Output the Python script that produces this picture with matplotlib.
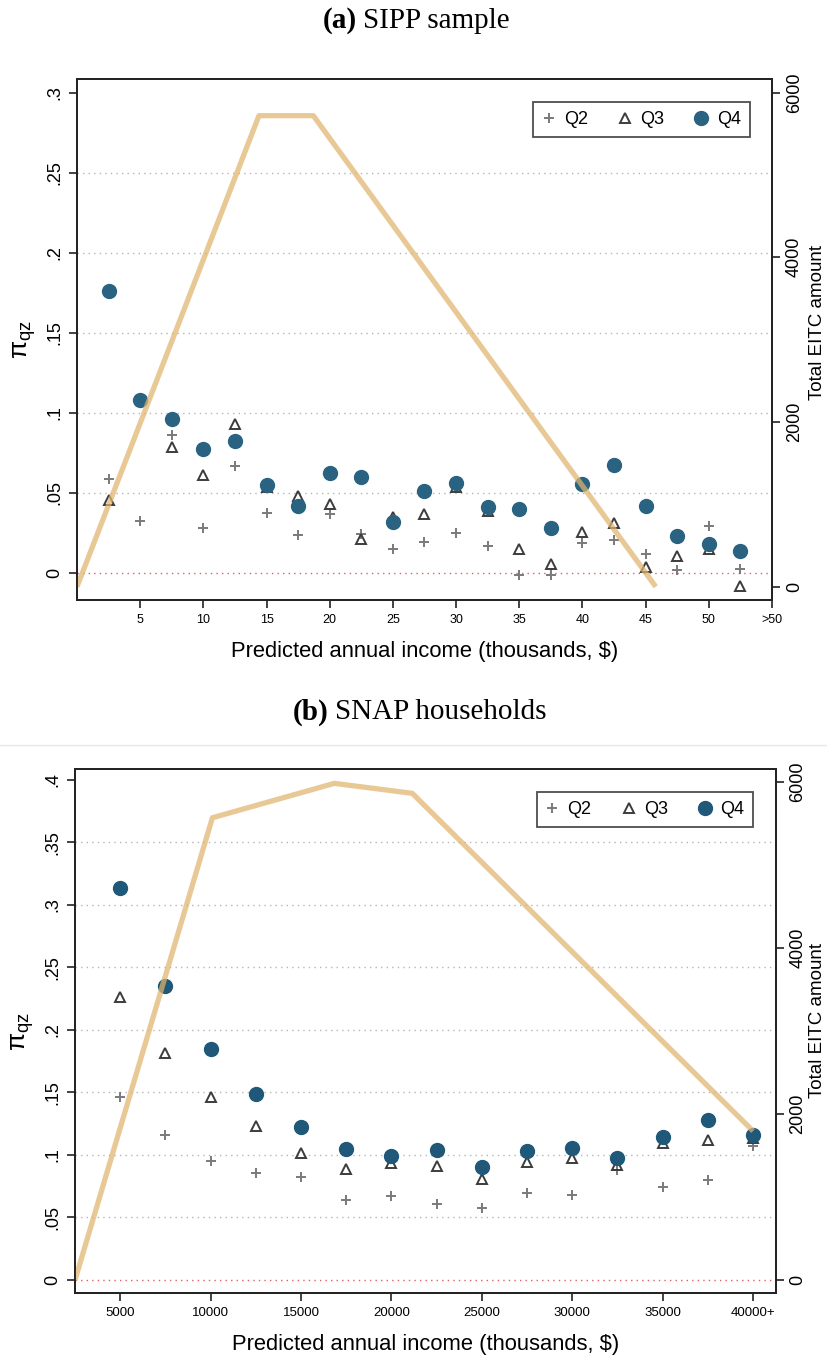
import matplotlib.pyplot as plt
from matplotlib.lines import Line2D

plt.rcParams['font.family'] = ['Liberation Sans', 'DejaVu Sans']
plt.rcParams['mathtext.fontset'] = 'custom'
plt.rcParams['mathtext.rm'] = 'Liberation Sans'

# (a) SIPP sample
sipp_x = [2.5, 5, 7.5, 10, 12.5, 15, 17.5, 20, 22.5, 25, 27.5, 30, 32.5, 35,
          37.5, 40, 42.5, 45, 47.5, 50, 52.5]
sipp_q2 = [0.0588, 0.0325, 0.086, 0.0283, 0.067, 0.0373, 0.024, 0.0369, 0.0244,
           0.015, 0.0194, 0.025, 0.0169, -0.0015, -0.0015, 0.019, 0.0206, 0.0117,
           0.0019, 0.0294, 0.0023]
sipp_q3 = [0.0454, None, 0.079, 0.061, 0.093, 0.054, 0.0483, 0.043, 0.021, 0.035,
           0.0367, 0.054, 0.039, 0.015, 0.0056, 0.0256, 0.0315, 0.004, 0.0104,
           0.015, -0.008]
sipp_q4 = [0.1765, 0.108, 0.096, 0.0773, 0.0827, 0.0548, 0.0417, 0.0625, 0.0602,
           0.032, 0.0512, 0.056, 0.041, 0.040, 0.0283, 0.0558, 0.0673, 0.042,
           0.0229, 0.018, 0.0137]
sipp_eitc_x = [0, 14.4, 18.7, 45.8]
sipp_eitc = [0, 5720, 5720, 0]
sipp_xticks = [5, 10, 15, 20, 25, 30, 35, 40, 45, 50, 55]
sipp_xlabels = ['5', '10', '15', '20', '25', '30', '35', '40', '45', '50', '>50']
sipp_yticks = [0, 0.05, 0.1, 0.15, 0.2, 0.25, 0.3]
sipp_ylabels = ['0', '.05', '.1', '.15', '.2', '.25', '.3']

# (b) SNAP households
snap_x = [5000, 7500, 10000, 12500, 15000, 17500, 20000, 22500, 25000, 27500,
          30000, 32500, 35000, 37500, 40000]
snap_q2 = [0.1465, 0.1159, 0.0949, 0.0852, 0.082, 0.0637, 0.0669, 0.0607, 0.0573,
           0.0696, 0.0675, 0.0879, 0.074, 0.0796, 0.107]
snap_q3 = [0.2264, 0.1815, 0.1465, 0.1228, 0.101, 0.0884, 0.093, 0.0906, 0.0804,
           0.0938, 0.0973, 0.092, 0.1089, 0.1113, 0.113]
snap_q4 = [0.3135, 0.2352, 0.1847, 0.1487, 0.1223, 0.1048, 0.0992, 0.1035, 0.0901,
           0.1027, 0.1054, 0.0973, 0.1137, 0.1277, 0.1159]
snap_eitc_x = [2500, 10100, 16840, 21150, 40000]
snap_eitc = [0, 5570, 5984, 5864, 1795]
snap_xticks = [5000, 10000, 15000, 20000, 25000, 30000, 35000, 40000]
snap_xlabels = ['5000', '10000', '15000', '20000', '25000', '30000', '35000', '40000+']
snap_yticks = [0, 0.05, 0.1, 0.15, 0.2, 0.25, 0.3, 0.35, 0.4]
snap_ylabels = ['0', '.05', '.1', '.15', '.2', '.25', '.3', '.35', '.4']

eitc_ticks = [0, 2000, 4000, 6000]
eitc_labels = ['0', '2000', '4000', '6000']

W, H = 827, 1361
fig = plt.figure(figsize=(W / 100, H / 100), dpi=100)


def px_rect(l, t, r, b):
    return [l / W, 1 - b / H, (r - l) / W, (b - t) / H]


def panel(rect, x, q2, q3, q4, ex, ey, xlim, ylim, y2lim, xticks, xlabels,
          yticks, ylabels, circ, xtick_size, y2lab_pos):
    ax = fig.add_axes(rect)
    ax2 = ax.twinx()
    for a in (ax, ax2):
        for s in a.spines.values():
            s.set_linewidth(1.3)
            s.set_color('#222222')
    # gridlines at interior ticks, red reference line at zero
    for yv in yticks[1:-1]:
        ax.axhline(yv, color='#b5b5b5', lw=1.0, ls=(0, (1, 3)), zorder=0)
    ax.axhline(0, color='#e06060', lw=1.0, ls=(0, (1, 3)), zorder=0)

    xq3 = [xi for xi, v in zip(x, q3) if v is not None]
    vq3 = [v for v in q3 if v is not None]
    h2, = ax.plot(x, q2, ls='none', marker='+', ms=7, mew=1.4, color='#7a7a7a')
    h3, = ax.plot(xq3, vq3, ls='none', marker='^', ms=6.5, mew=1.4,
                  mfc='none', mec='#3c3c3c')
    h4, = ax.plot(x, q4, ls='none', marker='o', ms=10, color=circ, mec=circ)

    ax2.plot(ex, ey, color='#e0b46e', alpha=0.72, lw=3.8, solid_capstyle='butt')

    ax.set_xlim(xlim)
    ax.set_ylim(ylim)
    ax2.set_ylim(y2lim)
    ax.set_xticks(xticks)
    ax.set_xticklabels(xlabels, fontsize=xtick_size)
    ax.set_yticks(yticks)
    ax.set_yticklabels(ylabels, fontsize=13, rotation=90, va='center')
    ax2.set_yticks(eitc_ticks)
    ax2.set_yticklabels(eitc_labels, fontsize=13, rotation=90, va='center')
    ax.tick_params(axis='both', length=6, width=1.2, color='#222222', pad=4)
    ax2.tick_params(axis='y', length=6, width=1.2, color='#222222', pad=4)
    ax.set_xlabel('Predicted annual income (thousands, $)', fontsize=15.8, labelpad=11)
    ax.set_ylabel(r'π$_{\mathregular{qz}}$', fontsize=19, labelpad=6)
    ax2.set_ylabel('Total EITC amount', fontsize=13.5, va='center')
    ax2.yaxis.set_label_coords(*y2lab_pos)

    leg = ax2.legend([h2, h3, h4], ['Q2', 'Q3', 'Q4'], ncol=3, loc='upper right',
                     bbox_to_anchor=(0.968, 0.956), borderaxespad=0, fontsize=13,
                     frameon=True, fancybox=False, handlelength=0.7,
                     handletextpad=0.5, columnspacing=1.7, borderpad=0.5)
    leg.get_frame().set_edgecolor('#222222')
    leg.get_frame().set_linewidth(1.3)
    return ax


panel(px_rect(77, 79, 772, 600), sipp_x, sipp_q2, sipp_q3, sipp_q4,
      sipp_eitc_x, sipp_eitc, (0, 55), (-0.0169, 0.30875), (-161, 6165),
      sipp_xticks, sipp_xlabels, sipp_yticks, sipp_ylabels, '#2a6381', 9,
      (1.065, 0.532))

panel(px_rect(75, 769, 775.7, 1293.3), snap_x, snap_q2, snap_q3, snap_q4,
      snap_eitc_x, snap_eitc, (2500, 41250), (-0.011, 0.4086), (-160, 6157),
      snap_xticks, snap_xlabels, snap_yticks, snap_ylabels, '#1f5878', 9.5,
      (1.06, 0.52))

# subfigure captions: bold label followed by regular text
serif = ['Liberation Serif', 'DejaVu Serif']
fig.text(357 / W, 1 - 21 / H, '(a)', ha='right', va='center', fontsize=21,
         fontweight='bold', family=serif)
fig.text(363 / W, 1 - 21 / H, 'SIPP sample', ha='left', va='center', fontsize=21,
         family=serif)
fig.text(329 / W, 1 - 712 / H, '(b)', ha='right', va='center', fontsize=21,
         fontweight='bold', family=serif)
fig.text(335 / W, 1 - 712 / H, 'SNAP households', ha='left', va='center',
         fontsize=21, family=serif)

fig.add_artist(Line2D([0, 1], [1 - 745 / H, 1 - 745 / H], color='#e6e6e6', lw=1))

fig.savefig('out.png', dpi=100)
